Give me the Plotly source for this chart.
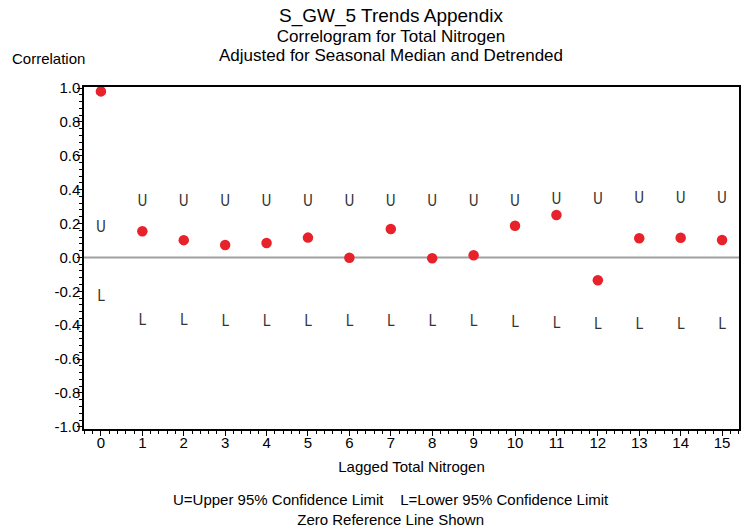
import plotly.graph_objects as go

lags = list(range(16))
correlation = [0.98, 0.154, 0.102, 0.073, 0.085, 0.117, -0.002, 0.168, -0.005, 0.013,
               0.187, 0.25, -0.135, 0.113, 0.116, 0.103]
upper_limit = [0.172, 0.325, 0.325, 0.325, 0.325, 0.325, 0.328, 0.328, 0.328, 0.328,
               0.328, 0.336, 0.34, 0.345, 0.345, 0.345]
lower_limit = [-0.237, -0.379, -0.379, -0.381, -0.381, -0.381, -0.383, -0.383, -0.385, -0.385,
               -0.386, -0.392, -0.4, -0.402, -0.402, -0.402]
y_tickvals = [1.0, 0.8, 0.6, 0.4, 0.2, 0.0, -0.2, -0.4, -0.6, -0.8, -1.0]
y_ticktext = ["1.0", "0.8", "0.6", "0.4", "0.2", "0.0", "-0.2", "-0.4", "-0.6", "-0.8", "-1.0"]
x_tickvals = list(range(16))

title_lines = ["S_GW_5 Trends Appendix", "Correlogram for Total Nitrogen",
               "Adjusted for Seasonal Median and Detrended"]
footer_lines = ["U=Upper 95% Confidence Limit\u00a0\u00a0\u00a0\u00a0L=Lower 95% Confidence Limit",
                "Zero Reference Line Shown"]

FONT = "Liberation Sans, Arial, sans-serif"
NARROW = "Liberation Sans Narrow, DejaVu Sans Condensed, Arial Narrow, sans-serif"

# figure is placed 8px from the page corner (default body margin)
W, H = 744, 521
ML, MR, MT, MB = 76, 11, 79, 100

fig = go.Figure()
fig.add_trace(go.Scatter(
    x=lags, y=upper_limit, mode="text", text=["U"] * len(lags),
    textfont=dict(family=NARROW, size=15, color="#333"), hoverinfo="skip"))
fig.add_trace(go.Scatter(
    x=lags, y=lower_limit, mode="text", text=["L"] * len(lags),
    textfont=dict(family=NARROW, size=15, color="#333"), hoverinfo="skip"))
fig.add_trace(go.Scatter(
    x=lags, y=correlation, mode="markers",
    marker=dict(color="#e8222a", size=10.5, line=dict(width=0))))

fig.add_shape(type="line", xref="paper", yref="y", x0=0, x1=1, y0=0, y1=0,
              line=dict(color="#a0a0a0", width=2), layer="below")

fig.update_layout(
    width=W, height=H,
    margin=dict(l=ML, r=MR, t=MT, b=MB),
    paper_bgcolor="white", plot_bgcolor="white",
    showlegend=False,
    font=dict(family=FONT, size=15, color="black"),
    xaxis=dict(range=[-0.409, 15.409], tickvals=x_tickvals, ticks="outside", ticklen=5,
               tickwidth=1.2, tickcolor="black", showline=True, linecolor="black",
               linewidth=1.5, mirror=True, showgrid=False, zeroline=False,
               tickfont=dict(size=15), ticklabelstandoff=-6,
               minor=dict(dtick=0.2, tick0=0, ticks="outside", ticklen=3, tickcolor="black",
                          tickwidth=1, showgrid=False),
               title=dict(text="Lagged Total Nitrogen", font=dict(size=15), standoff=12)),
    yaxis=dict(range=[-1.013, 1.006], tickvals=y_tickvals, ticktext=y_ticktext,
               ticks="outside", ticklen=5, tickwidth=1.2, tickcolor="black",
               showline=True, linecolor="black", linewidth=1.5, mirror=True,
               showgrid=False, zeroline=False, tickfont=dict(size=15), ticklabelstandoff=-6,
               minor=dict(dtick=0.04, tick0=0, ticks="outside", ticklen=3, tickcolor="black",
                          tickwidth=1, showgrid=False)),
)

pw, ph = W - ML - MR, H - MT - MB


def px(xp, yp):
    return (xp - ML) / pw, (H - MB - yp) / ph


title_text = ("<span style='font-size:19px'>%s</span><br>"
              "<span style='font-size:17px'>%s</span><br>"
              "<span style='font-size:17px'>%s</span>") % tuple(title_lines)
tx, ty = px(384, 27.5)
fig.add_annotation(text=title_text, xref="paper", yref="paper", x=tx, y=ty,
                   xanchor="center", yanchor="middle", showarrow=False,
                   font=dict(family=FONT, size=15, color="black"))

cx, cy = px(40, 50)
fig.add_annotation(text="Correlation", xref="paper", yref="paper", x=cx, y=cy,
                   xanchor="center", yanchor="middle", showarrow=False,
                   font=dict(family=FONT, size=15, color="black"))

fx, fy = px(384, 501)
fig.add_annotation(text="<br>".join(footer_lines), xref="paper", yref="paper", x=fx, y=fy,
                   xanchor="center", yanchor="middle", showarrow=False,
                   font=dict(family=FONT, size=15, color="black"))

fig.write_html("out.html")
